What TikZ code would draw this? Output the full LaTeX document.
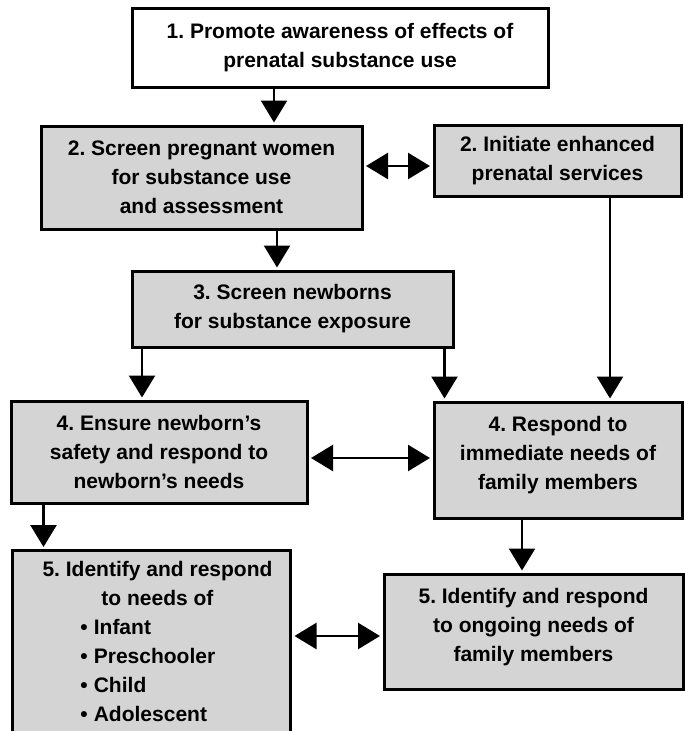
\documentclass[tikz,border=0pt]{standalone}
\usepackage{fontspec}
\setmainfont{Liberation Sans}
\frenchspacing
\usetikzlibrary{arrows.meta}
\definecolor{boxgray}{RGB}{212,212,212}
\newcommand{\kid}[1]{\makebox[240pt][l]{\hspace{49pt}\textbullet\hspace{6pt}#1}}

\begin{document}
\begin{tikzpicture}[x=1pt,y=-1pt]
        \tikzset{boxes/.style={draw, line width=3pt, fill=boxgray, align=center, inner sep=0pt,
                               font=\fontsize{21}{29}\selectfont\bfseries},
                 arr/.style={line width=2.5pt, shorten >=2pt, -{Triangle[length=22pt,width=26pt]}},
                 dbl/.style={line width=2.5pt, shorten >=2.5pt, shorten <=2.5pt,
                             {Triangle[length=22pt,width=26pt]}-{Triangle[length=22pt,width=26pt]}}}
        \useasboundingbox (0,0) rectangle (685,731);
        \node [boxes, fill=white, minimum width=416pt, minimum height=79pt] (1) at (340,47.5)
              {1. Promote awareness of effects of\\prenatal substance use};
        \node [boxes, minimum width=321pt, minimum height=103pt] (2a) at (201.5,177.5)
              {2. Screen pregnant women\\for substance use\\and assessment};
        \node [boxes, minimum width=247pt, minimum height=71pt]  (2b) at (557.5,160.5)
              {2. Initiate enhanced\\prenatal services};
        \node [boxes, minimum width=321pt, minimum height=76pt]  (3)  at (292.5,309)
              {3. Screen newborns\\for substance exposure};
        \node [boxes, minimum width=296pt, minimum height=102pt] (4a) at (159,452)
              {4. Ensure newborn’s\\safety and respond to\\newborn’s needs};
        \node [boxes, minimum width=248pt, minimum height=116pt, text depth=14pt] (4b) at (558,460)
              {4. Respond to\\immediate needs of\\family members};
        \node [boxes, minimum width=278pt, inner ysep=11pt, text depth=10pt, anchor=north west] (5a) at (11,549)
              {\hspace*{12pt}5. Identify and respond\\\hspace*{12pt}to needs of\\\kid{Infant}\\\kid{Preschooler}\\\kid{Child}\\\kid{Adolescent}};
        \node [boxes, minimum width=299pt, minimum height=115pt, text depth=14pt] (5b) at (533.5,631.5)
              {5. Identify and respond\\to ongoing needs of\\family members};
        % downward arrows
        \draw [arr] ([xshift=-66pt]1.south) -- ([xshift=-66pt]1.south |- 2a.north);
        \draw [arr] ([xshift=-15.5pt]3.north |- 2a.south) -- ([xshift=-15.5pt]3.north);
        \draw [arr] ([xshift=-17pt]4a.north |- 3.south) -- ([xshift=-17pt]4a.north);
        \draw [arr] ([xshift=-10pt]3.south east) -- ([xshift=-10pt]3.south east |- 4b.north);
        \draw [arr] ([xshift=52.5pt]2b.south) -- ([xshift=52.5pt]2b.south |- 4b.north);
        \draw [arr] ([xshift=34pt]4a.south west) -- ([xshift=34pt]4a.south west |- 5a.north);
        \draw [arr] ([xshift=-11.5pt]5b.north |- 4b.south) -- ([xshift=-11.5pt]5b.north);
        % two-way arrows
        \draw [dbl] ([yshift=-5.5pt]2b.west -| 2a.east) -- ([yshift=-5.5pt]2b.west);
        \draw [dbl] ([yshift=-6pt]4a.east) -- ([yshift=-6pt]4a.east -| 4b.west);
        \draw [dbl] ([yshift=-4.5pt]5b.west -| 5a.east) -- ([yshift=-4.5pt]5b.west);
    \end{tikzpicture}
\end{document}
